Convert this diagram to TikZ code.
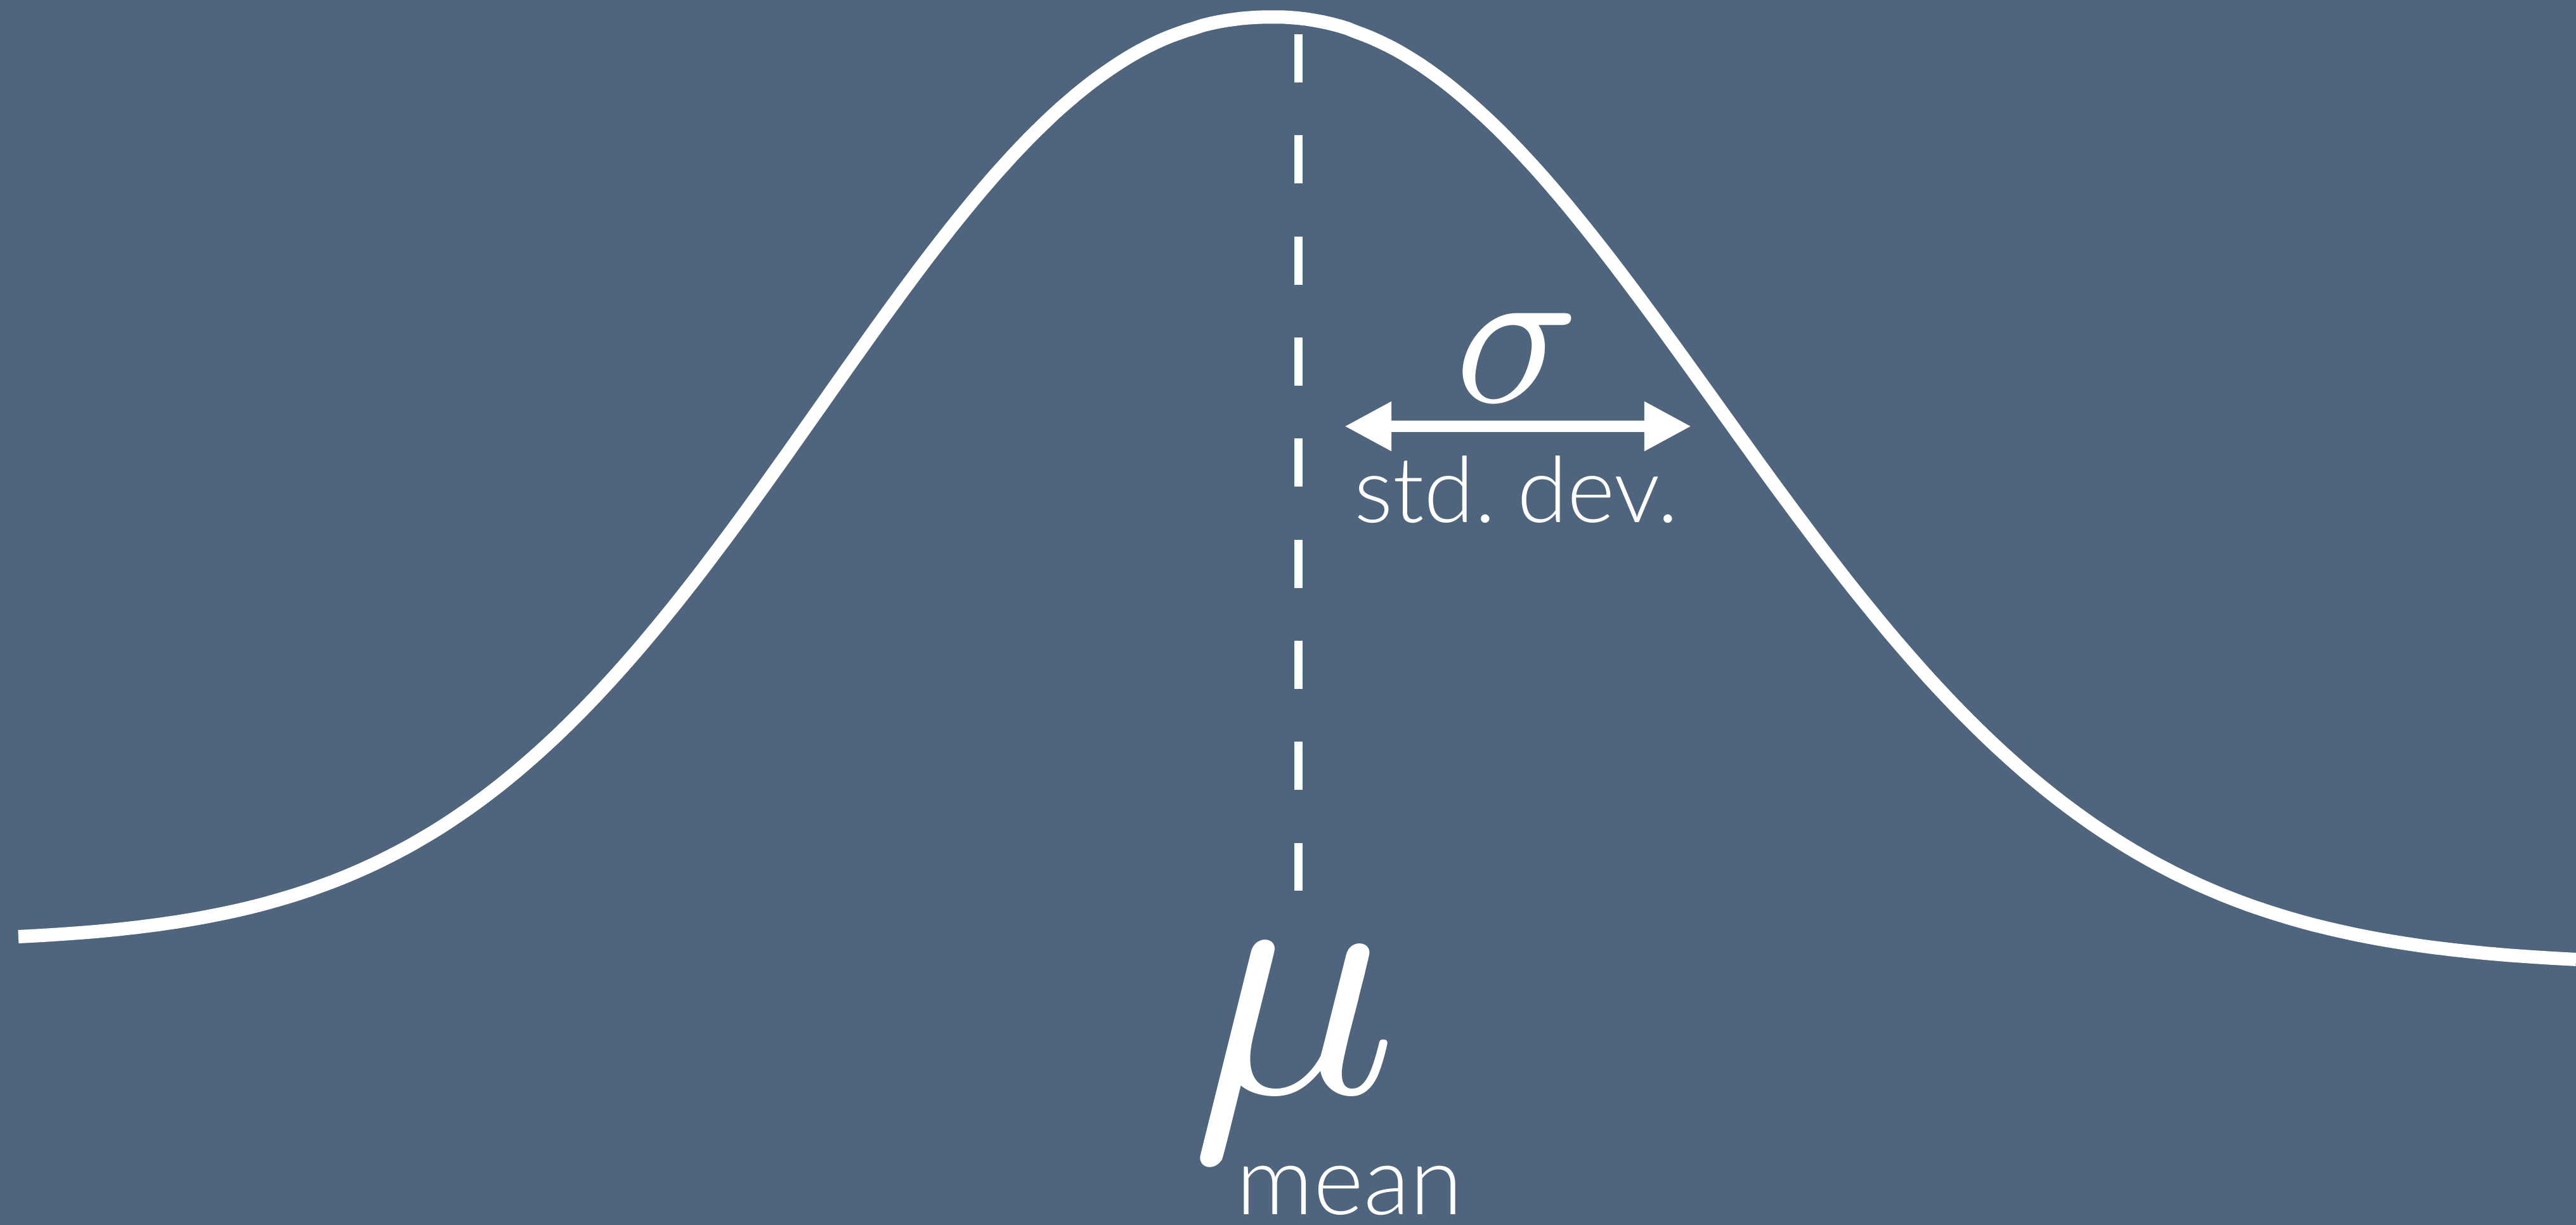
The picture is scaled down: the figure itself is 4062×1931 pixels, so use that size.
\documentclass[tikz,border=0pt]{standalone}
\usepackage{fontspec}
\usetikzlibrary{arrows.meta}
\newfontfamily\lightfont{Lato Light}
\definecolor{bgc}{HTML}{4F657D}
\tikzset{
  curve/.style={white, line width=0.21cm, line join=round},
  meanline/.style={white, line width=0.13cm, dash pattern=on 0.76cm off 0.8325cm},
  sdarrow/.style={white, line width=0.18cm, {Triangle[length=0.74cm,width=0.73cm]}-{Triangle[length=0.74cm,width=0.73cm]}},
  lbl/.style={text=white, inner sep=0pt, font=\lightfont\fontsize{41}{41}\selectfont},
  sym/.style={text=white, inner sep=0pt}
}
\begin{document}
\begin{tikzpicture}[x=0.01cm, y=-0.01cm]
\fill[bgc] (0,0) rectangle (4062,1931);
\useasboundingbox (0,0) rectangle (4062,1931);
% bell curve (left and right halves)
\draw[curve]
  plot[domain=29:2007.9, samples=160] (\x, {1485 - 1458*exp(-((2008-\x)/940)^2.2)})
  -- plot[domain=2008.1:4062, samples=160] (\x, {1522 - 1495*exp(-((\x-2008)/950)^2.1)});
% mean line
\coordinate (dtop) at (2047,54);
\coordinate (dbot) at (2047,1404);
\draw[meanline] (dtop) -- (dbot);
% std dev arrow
\coordinate (sl) at (2120,672);
\coordinate (sr) at (2667,672);
\draw[sdarrow] (sl) -- (sr);
\node[sym, anchor=base] (sigma) at (2393,634) {\scalebox{9.2}{$\sigma$}};
\node[lbl, anchor=base] (sd) at (2391,824) {std.\hspace{0.23em}dev.};
\node[sym, anchor=base] (mu) at (2041,1722) {\scalebox{15.5}{$\mu$}};
\node[lbl, anchor=base, font=\lightfont\fontsize{43}{43}\selectfont] (mean) at (2128,1914) {mean};
\end{tikzpicture}
\end{document}
